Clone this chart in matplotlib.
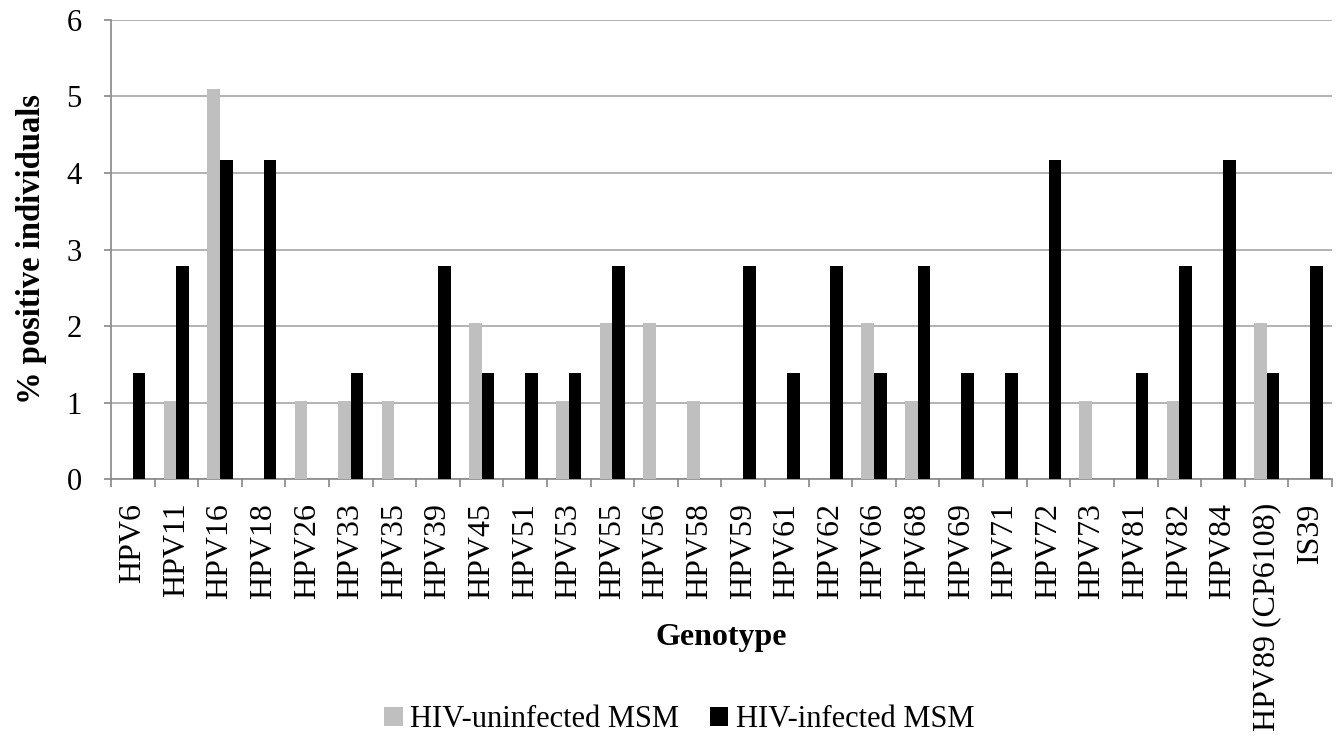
import numpy as np
import matplotlib
matplotlib.use("Agg")
import matplotlib.pyplot as plt

plt.rcParams['font.family'] = ['Liberation Serif', 'DejaVu Serif']

# data
genotypes = ['HPV6', 'HPV11', 'HPV16', 'HPV18', 'HPV26', 'HPV33', 'HPV35', 'HPV39',
             'HPV45', 'HPV51', 'HPV53', 'HPV55', 'HPV56', 'HPV58', 'HPV59', 'HPV61',
             'HPV62', 'HPV66', 'HPV68', 'HPV69', 'HPV71', 'HPV72', 'HPV73', 'HPV81',
             'HPV82', 'HPV84', 'HPV89 (CP6108)', 'IS39']
hiv_uninfected = [0, 1.02, 5.10, 0, 1.02, 1.02, 1.02, 0,
                  2.04, 0, 1.02, 2.04, 2.04, 1.02, 0, 0,
                  0, 2.04, 1.02, 0, 0, 0, 1.02, 0,
                  1.02, 0, 2.04, 0]
hiv_infected = [1.39, 2.78, 4.17, 4.17, 0, 1.39, 0, 2.78,
                1.39, 1.39, 1.39, 2.78, 0, 0, 2.78, 1.39,
                2.78, 1.39, 2.78, 1.39, 1.39, 4.17, 0, 1.39,
                2.78, 4.17, 1.39, 2.78]

fig = plt.figure(figsize=(13.4, 7.36), dpi=100)
ax = fig.add_axes([0.0828, 0.349, 0.9112, 0.624])

x = np.arange(len(genotypes))
width = 0.29
ax.bar(x - width/2, hiv_uninfected, width, color='#BFBFBF', label='HIV-uninfected MSM', zorder=3)
ax.bar(x + width/2, hiv_infected, width, color='black', label='HIV-infected MSM', zorder=3)

ax.set_xlim(-0.5, len(genotypes) - 0.5)
ax.set_ylim(0, 6)
ax.set_yticks(range(0, 7))
ax.yaxis.grid(True, color='#A6A6A6', linewidth=1.2, zorder=0)

ax.set_xticks(x)
ax.set_xticklabels(genotypes, rotation=90, fontsize=23)
ax.set_xticks(np.arange(-0.5, len(genotypes)), minor=True)
ax.tick_params(axis='x', which='major', length=0, pad=17)
ax.tick_params(axis='x', which='minor', length=6, color='#888888', width=1.2)
ax.tick_params(axis='y', labelsize=22, length=5, color='#888888', width=1.2, pad=16)

for side in ['top', 'right']:
    ax.spines[side].set_visible(False)
for side in ['left', 'bottom']:
    ax.spines[side].set_color('#888888')
    ax.spines[side].set_linewidth(1.2)

ax.set_xlabel('Genotype', fontsize=23, fontweight='bold', va='center')
ax.xaxis.set_label_coords(0.5, -0.344)
ax.set_ylabel('% positive individuals', fontsize=23.5, fontweight='bold', va='center')
ax.yaxis.set_label_coords(-0.065, 0.5)

fig.legend(loc='center', bbox_to_anchor=(0.507, 0.022), ncol=2, frameon=False,
           fontsize=22, handlelength=0.6, handleheight=0.6, handletextpad=0.25,
           columnspacing=1.0)

fig.savefig('out.png', dpi=100)
